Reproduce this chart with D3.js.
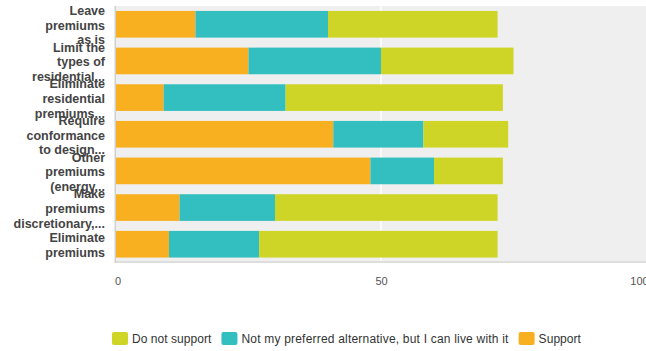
<!DOCTYPE html>
<html><head><meta charset="utf-8">
<script src="https://cdn.jsdelivr.net/npm/d3@7"></script>
<style>body{margin:0;background:#fff;}svg{display:block;font-family:"Liberation Sans",Arial,sans-serif;}</style>
</head><body><svg id="c" width="646" height="351"></svg>
<script>
const categories = [
  ["Leave","premiums","as is"],
  ["Limit the","types of","residential..."],
  ["Eliminate","residential","premiums..."],
  ["Require","conformance","to design..."],
  ["Other","premiums","(energy..."],
  ["Make","premiums","discretionary,..."],
  ["Eliminate","premiums"]
];
const seriesNames = ["Support","Not my preferred alternative, but I can live with it","Do not support"];
const support      = [15, 25,  9, 41, 48, 12, 10];
const notPreferred = [25, 25, 23, 17, 12, 18, 17];
const doNotSupport = [32, 25, 41, 16, 13, 42, 45];
const colors = ["#F8AF20","#33BEC0","#CFD527"];
const xTicks = [0, 50, 100];
const legendOrder = [2, 1, 0];

const svg = d3.select("#c");
const pL = 116, pR = 646, pT = 6, pB = 261;
const x = d3.scaleLinear().domain([0,100]).range([pL,pR]);
const y = d3.scaleBand().domain(d3.range(categories.length)).range([pT, pB+1.5]).paddingInner(0.273).paddingOuter(0.135);

svg.append("rect").attr("x",pL).attr("y",pT).attr("width",pR-pL).attr("height",pB-pT).attr("fill","#EFEFEF");
svg.append("rect").attr("x",pL).attr("y",pB).attr("width",pR-pL).attr("height",2).attr("fill","#DEDEDE");
svg.append("rect").attr("x",114.5).attr("y",pT).attr("width",1.5).attr("height",pB-pT+2).attr("fill","#D0D0D0");
xTicks.filter(t=>t>0 && t<100).forEach(t=>{
  svg.append("rect").attr("x",x(t)-1).attr("y",pT).attr("width",2).attr("height",pB-pT).attr("fill","#FAFAFA");
});

const data = categories.map((c,i)=>({i, v:[support[i], notPreferred[i], doNotSupport[i]]}));
const stack = d3.stack().keys([0,1,2]).value((d,k)=>d.v[k]);
const stacked = stack(data);
stacked.forEach((layer,k)=>{
  svg.append("g").selectAll("rect").data(layer).join("rect")
    .attr("x",d=>x(d[0])).attr("width",d=>x(d[1])-x(d[0]))
    .attr("y",d=>y(d.data.i)).attr("height",y.bandwidth())
    .attr("fill",colors[k]);
});

const lh = 14.6;
categories.forEach((lines,i)=>{
  const cy = y(i)+y.bandwidth()/2;
  const t = svg.append("text").attr("text-anchor","end").attr("font-size","12.5px").attr("font-weight","bold").attr("fill","#444");
  lines.forEach((ln,j)=>{
    t.append("tspan").attr("x",105).attr("y", cy + (j-(lines.length-1)/2)*lh + 5.5).text(ln);
  });
});

const xa = d3.axisBottom(x).tickValues(xTicks).tickSize(0).tickPadding(0);
const ag = svg.append("g").attr("transform",`translate(0,${pB+16})`).call(xa);
ag.select(".domain").remove();
ag.selectAll("text").attr("font-size","11px").attr("fill","#555").attr("font-family","'Liberation Sans',Arial,sans-serif").attr("dy","0.71em")
  .attr("dx",(d)=> d===0 ? 1.5 : (d===100 ? -7 : 0));

const lg = svg.append("g");
let lx = 112;
legendOrder.forEach(k=>{
  lg.append("rect").attr("x",lx).attr("y",332).attr("width",16).attr("height",13).attr("rx",2).attr("fill",colors[k]);
  const tx = lg.append("text").attr("x",lx+20).attr("y",342.5).attr("font-size","12px").attr("letter-spacing", k===1 ? "0.2px" : "0.05px").attr("fill","#333").text(seriesNames[k]);
  const w = tx.node().getComputedTextLength();
  lx = lx + 20 + w + 10;
});
</script></body></html>
